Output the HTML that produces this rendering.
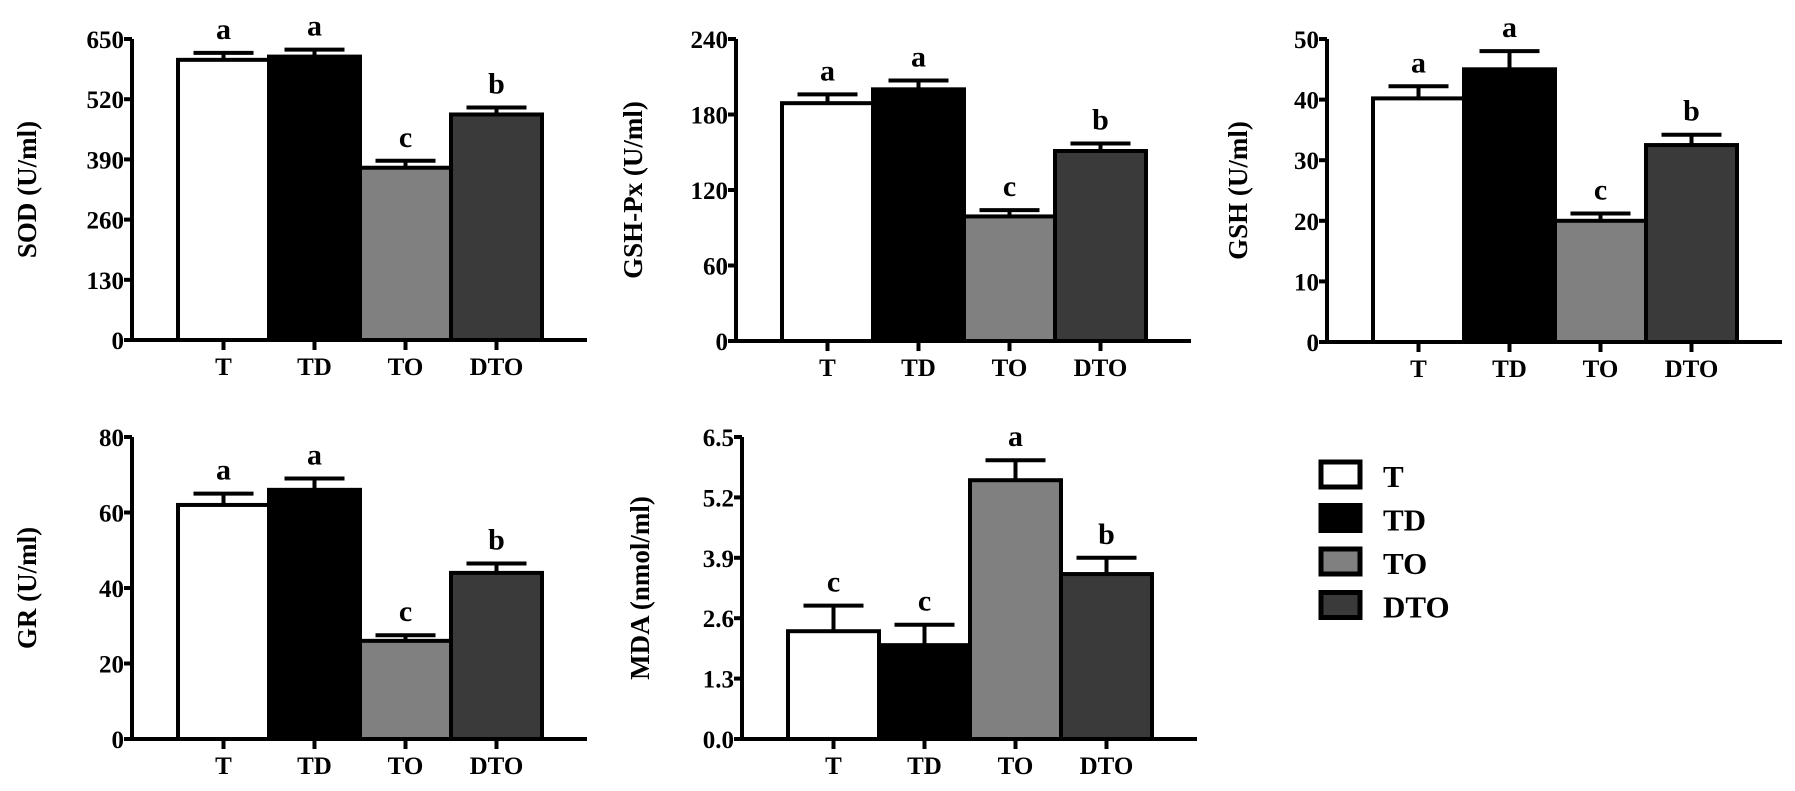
<!DOCTYPE html>
<html><head><meta charset="utf-8"><style>
html,body{margin:0;padding:0;background:#fff;}
svg{display:block;font-family:"Liberation Serif",serif;font-weight:bold;}
</style></head><body>
<svg id="fig" width="1795" height="791" viewBox="0 0 1795 791" xmlns="http://www.w3.org/2000/svg"></svg>
<script>
const categories = ["T","TD","TO","DTO"];
const fills = ["#ffffff","#000000","#808080","#3a3a3a"];
const sodValues = [605, 612, 372, 487];
const sodErrors = [15, 15, 15, 15];
const sodLetters = ["a","a","c","b"];
const sodTicks = [0,130,260,390,520,650];
const gpxValues = [189, 200, 99, 151];
const gpxErrors = [7, 7, 5, 6];
const gpxLetters = ["a","a","c","b"];
const gpxTicks = [0,60,120,180,240];
const gshValues = [40.2, 45, 20, 32.5];
const gshErrors = [2, 3, 1.2, 1.7];
const gshLetters = ["a","a","c","b"];
const gshTicks = [0,10,20,30,40,50];
const grValues = [62, 66, 26, 44];
const grErrors = [3, 3, 1.5, 2.5];
const grLetters = ["a","a","c","b"];
const grTicks = [0,20,40,60,80];
const mdaValues = [2.32, 2.02, 5.57, 3.55];
const mdaErrors = [0.55, 0.44, 0.43, 0.35];
const mdaLetters = ["c","c","a","b"];
const mdaTicks = ["0.0","1.3","2.6","3.9","5.2","6.5"];

const NS="http://www.w3.org/2000/svg";
const svg=document.getElementById('fig');
function mk(tag,attrs,parent){const e=document.createElementNS(NS,tag);for(const k in attrs)e.setAttribute(k,attrs[k]);(parent||svg).appendChild(e);return e;}

function panel(id,title,ax,top,base,ticks,values,errors,letters,titleX){
  const g=mk('g',{});
  
  
  const tv=ticks.map(Number);
  const ymax=tv[tv.length-1];
  const y=v=>base-(v/ymax)*(base-top);
  const bw=91, x0=ax+46;
  const xb=i=>x0+i*bw;
  values.forEach((v,i)=>{
    const r=mk('rect',{x:xb(i),y:y(v),width:bw,height:base-y(v),fill:fills[i],stroke:'#000','stroke-width':4},g);
    
    
    const cx=xb(i)+bw/2, ye=y(v+errors[i]);
    const e=mk('path',{d:`M${cx},${y(v)} V${ye} M${cx-30},${ye} H${cx+30}`,stroke:'#000','stroke-width':4,fill:'none'},g);
    
    
    const t=mk('text',{x:cx,y:ye-14,'text-anchor':'middle','font-size':30},g);
    t.textContent=letters[i];
    
    
  });
  const a=mk('path',{d:`M${ax},${top} V${base} H${ax+455}`,stroke:'#000','stroke-width':4,fill:'none'},g);
  
  
  ticks.forEach(tk=>{
    const yy=y(Number(tk));
    mk('line',{x1:ax-8,x2:ax,y1:yy,y2:yy,stroke:'#000','stroke-width':4},g);
    const t=mk('text',{x:ax-8,y:yy+9,'text-anchor':'end','font-size':25},g);
    t.textContent=tk;
    
    
  });
  categories.forEach((c,i)=>{
    const cx=xb(i)+bw/2;
    mk('line',{x1:cx,x2:cx,y1:base,y2:base+10,stroke:'#000','stroke-width':4},g);
    const t=mk('text',{x:cx,y:base+35,'text-anchor':'middle','font-size':25},g);
    t.textContent=c;
    
    
  });
  const cy=(top+base)/2;
  const t=mk('text',{x:titleX,y:cy,'text-anchor':'middle','font-size':27,transform:`rotate(-90 ${titleX} ${cy}) translate(0 9)`},g);
  t.textContent=title;
  
  
}
panel('sod','SOD (U/ml)',132,39,340,sodTicks,sodValues,sodErrors,sodLetters,27);
panel('gsh-px','GSH-Px (U/ml)',736,39,341,gpxTicks,gpxValues,gpxErrors,gpxLetters,633);
panel('gsh','GSH (U/ml)',1327,39,342,gshTicks,gshValues,gshErrors,gshLetters,1238);
panel('gr','GR (U/ml)',132,437,739,grTicks,grValues,grErrors,grLetters,27);
panel('mda','MDA (nmol/ml)',742,437,739,mdaTicks,mdaValues,mdaErrors,mdaLetters,640);

const lg=mk('g',{});


categories.forEach((c,i)=>{
  const yy=462+i*43.5;
  const r=mk('rect',{x:1321,y:yy,width:39,height:25,fill:fills[i],stroke:'#000','stroke-width':5},lg);
  
  
  const t=mk('text',{x:1383,y:yy+25,'font-size':31},lg);
  t.textContent=c;
  
  
});
</script>
</body></html>
